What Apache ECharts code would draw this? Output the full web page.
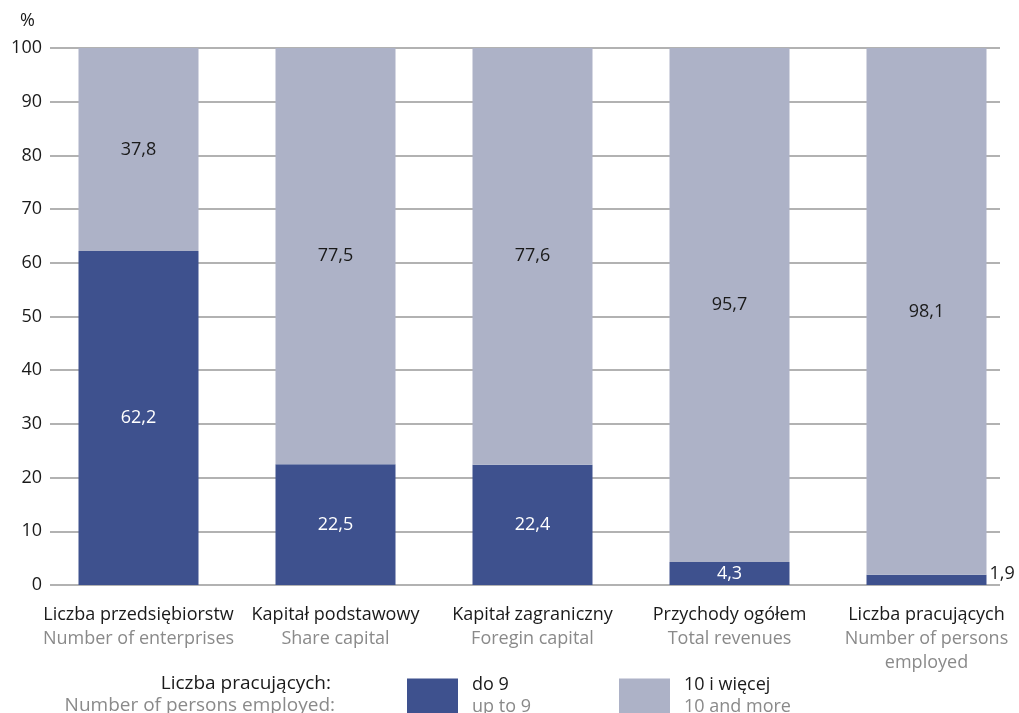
<!DOCTYPE html>
<html>
<head>
<meta charset="utf-8">
<script src="https://cdn.jsdelivr.net/npm/echarts@6/dist/echarts.min.js"></script>
<style>
  html, body { margin: 0; padding: 0; background: #fff; }
  #main { width: 1019px; height: 713px; }
</style>
</head>
<body>
<div id="main"></div>
<script>
// kategorie (PL / EN)
const categoriesPl = ['Liczba przedsiębiorstw', 'Kapitał podstawowy', 'Kapitał zagraniczny', 'Przychody ogółem', 'Liczba pracujących'];
const categoriesEn = ['Number of enterprises', 'Share capital', 'Foregin capital', 'Total revenues', 'Number of persons\nemployed'];

// udział w % wg liczby pracujących
const upTo9 = [62.2, 22.5, 22.4, 4.3, 1.9];
const tenAndMore = [37.8, 77.5, 77.6, 95.7, 98.1];

const seriesNames = ['do 9', '10 i więcej'];
const seriesNamesEn = ['up to 9', '10 and more'];

const DARK = '#3e518e';
const LIGHT = '#adb2c7';
const GREY_TEXT = '#8a8a8a';
const FONT = 'Open Sans';

const fmt = v => v.toFixed(1).replace('.', ',');

const xLabels = categoriesPl.map((c, i) => c + '\n' + categoriesEn[i]);

// male wartosci -> etykieta obok slupka
const darkData = upTo9.map(v => v < 3
  ? { value: v, label: { position: 'right', color: '#1a1a1a', offset: [-2, -6] } }
  : v);

function legendFor(idx, left) {
  return {
    data: [seriesNames[idx]],
    left: left,
    top: 671,
    icon: 'rect',
    itemWidth: 51,
    itemHeight: 35,
    selectedMode: false,
    formatter: name => '{a|' + name + '}\n{b|' + seriesNamesEn[idx] + '}',
    textStyle: {
      padding: [0, 0, 0, 9],
      rich: {
        a: { fontFamily: FONT, fontSize: 18, color: '#1a1a1a', lineHeight: 22 },
        b: { fontFamily: FONT, fontSize: 18, color: GREY_TEXT, lineHeight: 22 }
      }
    }
  };
}

const option = {
  animation: false,
  textStyle: { fontFamily: FONT },
  grid: [
    { left: 50, right: 19, top: 48, bottom: 128, outerBoundsMode: 'none' },   // linie siatki
    { left: 40, width: 985, top: 48, bottom: 128, outerBoundsMode: 'none' }   // slupki
  ],
  legend: [legendFor(0, 402), legendFor(1, 614)],
  graphic: [
    { type: 'text', x: 331, y: 674,
      style: { text: 'Liczba pracujących:', textAlign: 'right', fill: '#1a1a1a', font: '19px "' + FONT + '"' } },
    { type: 'text', x: 335, y: 696,
      style: { text: 'Number of persons employed:', textAlign: 'right', fill: GREY_TEXT, font: '19px "' + FONT + '"' } }
  ],
  xAxis: [
    { type: 'value', gridIndex: 0, show: false },
    {
      type: 'category', gridIndex: 1, data: xLabels,
      axisLine: { show: false }, axisTick: { show: false },
      axisLabel: {
        interval: 0, margin: 18, hideOverlap: false,
        formatter: v => {
          const parts = v.split('\n');
          return '{a|' + parts[0] + '}\n' + parts.slice(1).map(p => '{b|' + p + '}').join('\n');
        },
        rich: {
          a: { fontFamily: FONT, fontSize: 18, color: '#1a1a1a', lineHeight: 24 },
          b: { fontFamily: FONT, fontSize: 18, color: GREY_TEXT, lineHeight: 24 }
        }
      }
    }
  ],
  yAxis: [
    {
      type: 'value', gridIndex: 0, min: 0, max: 100, interval: 10,
      name: '%', nameLocation: 'end', nameGap: 18,
      nameTextStyle: { fontFamily: FONT, fontSize: 18, color: '#1a1a1a', align: 'right', padding: [0, 15, 0, 0] },
      axisLine: { show: false }, axisTick: { show: false },
      axisLabel: { fontFamily: FONT, fontSize: 18, color: '#1a1a1a', margin: 8 },
      splitLine: { lineStyle: { color: '#999', width: 1.5 } }
    },
    {
      type: 'value', gridIndex: 1, min: 0, max: 100, interval: 10,
      show: false, splitLine: { show: false }
    }
  ],
  series: [
    {
      name: seriesNames[0], type: 'bar', stack: 'total',
      xAxisIndex: 1, yAxisIndex: 1, barWidth: 120,
      itemStyle: { color: DARK },
      label: { show: true, position: 'inside', color: '#fff', fontFamily: FONT, fontSize: 18, formatter: p => fmt(p.value) },
      data: darkData
    },
    {
      name: seriesNames[1], type: 'bar', stack: 'total',
      xAxisIndex: 1, yAxisIndex: 1, barWidth: 120,
      itemStyle: { color: LIGHT },
      label: { show: true, position: 'inside', color: '#1a1a1a', fontFamily: FONT, fontSize: 18, formatter: p => fmt(p.value) },
      data: tenAndMore
    }
  ]
};

const chart = echarts.init(document.getElementById('main'));
chart.setOption(option);
</script>
</body>
</html>
